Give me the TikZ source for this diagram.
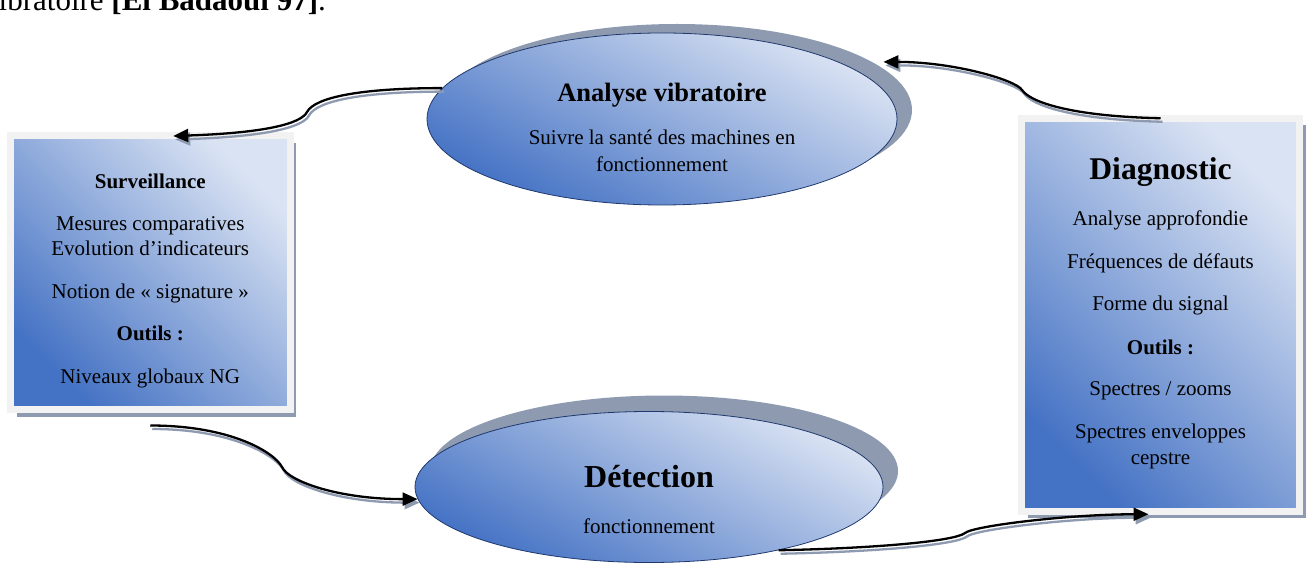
\documentclass[tikz,border=0pt]{standalone}
\usepackage{fontspec}
\setmainfont{Liberation Serif}
\usetikzlibrary{
    shapes,
    shapes.geometric,
    positioning,
    shadows,
    calc,
    arrows.meta
}
\definecolor{darkblue}{RGB}{68,114,196}
\definecolor{paleblue}{RGB}{218,227,243}
\definecolor{shadowgray}{RGB}{141,154,176}
\definecolor{framegray}{RGB}{242,242,242}
\definecolor{ovalline}{RGB}{31,56,110}
\tikzset{
  blueshade/.style = {
      top color=paleblue,
      bottom color=darkblue,
      shading angle=-45
  },
  oval/.style = {
      ellipse,
      blueshade,
      shading angle=-28,
      draw=ovalline,
      line width=0.8pt,
      align=center,
      inner sep=0pt,
      text depth=0pt,
      font=\fontsize{21}{27}\selectfont,
      drop shadow={shadow xshift=15pt, shadow yshift=#1,
                   fill=shadowgray, opacity=1}
  },
  panel/.style = {
      rectangle,
      blueshade,
      draw=framegray,
      line width=7pt,
      outer sep=0pt,
      align=center,
      drop shadow={shadow xshift=6pt, shadow yshift=-7pt,
                   fill=shadowgray, opacity=1}
  },
  link/.style = {
      line width=2.3pt,
      -{Triangle[length=15pt,width=13pt]}
  },
  linkshadow/.style = {
      link,
      draw=shadowgray,
      transform canvas={xshift=2pt, yshift=-3.5pt}
  }
}

\begin{document}
\begin{tikzpicture}[x=1pt, y=-1pt]
    \useasboundingbox (0,0) rectangle (1312,564);
    % Text line above
    \begin{scope}
      \clip (0,0) rectangle (1312,564);
      \node[anchor=base west, inner sep=0pt,
            font=\fontsize{31}{36}\selectfont] (cite) at (-17,11)
          {vibratoire \textbf{[El Badaoui 97]}.};
    \end{scope}
    % Nodes
    \node[oval=9pt, minimum width=470pt, minimum height=172pt,
          text height=106pt] (vib) at (662,119)
        {{\fontsize{26.5}{27}\selectfont\bfseries Analyse vibratoire}\\[16pt]
         Suivre la santé des machines en\\ fonctionnement};
    \node[oval=16pt, minimum width=468pt, minimum height=151pt,
          text height=93pt] (det) at (649,487)
        {{\fontsize{32}{27}\selectfont\bfseries Détection}\\[19pt]
         fonctionnement};
    \node[panel, minimum width=279.5pt, minimum height=273.5pt,
          text height=220.5pt, text depth=0pt,
          font=\fontsize{21}{25}\selectfont] (surv) at (150.25,272.75)
        {\textbf{Surveillance}\\[17pt]
         Mesures comparatives\\
         Evolution d’indicateurs\\[18pt]
         Notion de « signature »\\[17pt]
         \textbf{Outils :}\\[18pt]
         Niveaux globaux NG};
    \node[panel, minimum width=278pt, minimum height=393pt,
          text depth=7pt,
          font=\fontsize{21}{26}\selectfont] (diag) at (1160.5,314.75)
        {{\fontsize{31.6}{26}\selectfont\bfseries Diagnostic}\\[20pt]
         Analyse approfondie\\[17pt]
         Fréquences de défauts\\[16pt]
         Forme du signal\\[18pt]
         \textbf{Outils :}\\[15pt]
         Spectres / zooms\\[17pt]
         Spectres enveloppes\\
         cepstre};
    % Bends of the links
    \coordinate (k1) at (307,112);
    \coordinate (k2) at (1022,90);
    \coordinate (k3) at (282,467);
    \coordinate (k4) at (965,533);
    % Edges, shadow first
    \foreach \kind in {linkshadow, link} {
      \draw[\kind] (vib.172) .. controls +(-80,0) and +(8,-15) .. (k1)
          .. controls +(-6,12) and +(90,-3) .. ([xshift=23pt]surv.north);
      \draw[\kind] (diag.north) .. controls +(-90,-2) and +(8,12) .. (k2)
          .. controls +(-6,-10) and +(70,0) .. ([xshift=55pt,yshift=-4pt]vib.north east);
      \draw[\kind] ([yshift=-16pt]surv.south) .. controls +(80,0) and +(-8,-15) .. (k3)
          .. controls +(6,14) and +(-80,0) .. (det.183);
      \draw[\kind] (det.-26) .. controls +(100,-2) and +(-10,8) .. (k4)
          .. controls +(8,-7) and +(-80,0) .. ([xshift=-12pt,yshift=-3pt]diag.south);
    }
\end{tikzpicture}
\end{document}
